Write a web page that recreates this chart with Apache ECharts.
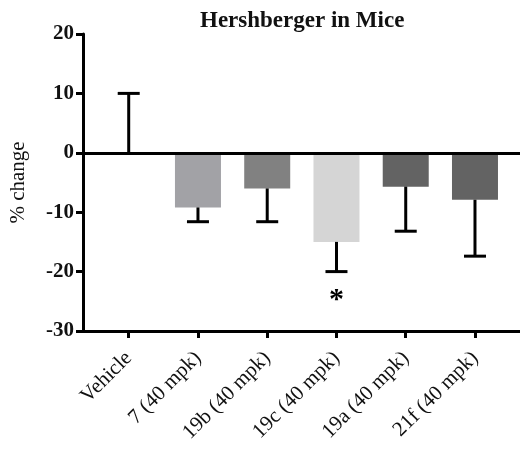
<!DOCTYPE html>
<html>
<head>
<meta charset="utf-8">
<script src="https://cdn.jsdelivr.net/npm/echarts@6/dist/echarts.min.js"></script>
<style>
  html, body { margin: 0; padding: 0; background: #fff; }
  #chart { width: 520px; height: 451px; }
</style>
</head>
<body>
<div id="chart"></div>
<script>
// 数据
var categories = ['Vehicle', '7 (40 mpk)', '19b (40 mpk)', '19c (40 mpk)', '19a (40 mpk)', '21f (40 mpk)'];
var means = [0, -9.2, -6.0, -15.0, -5.7, -7.9];
var errors = [10, 2.4, 5.6, 5.0, 7.5, 9.5];
var barColors = ['#ffffff', '#a2a2a6', '#818181', '#d5d5d5', '#636363', '#636363'];
var yTicks = [-30, -20, -10, 0, 10, 20];
var starAt = [3, -24.9];   // 显著性标记 *

var serif = '"Liberation Serif", "Times New Roman", serif';
var myChart = echarts.init(document.getElementById('chart'));

var barData = means.map(function (m, i) {
    return { value: [i, m], itemStyle: { color: barColors[i] } };
});
var errData = means.map(function (m, i) {
    return [i, m, m >= 0 ? m + errors[i] : m - errors[i]];
});

var option = {
    animation: false,
    title: {
        text: 'Hershberger in Mice',
        left: 195,
        top: 5,
        textStyle: { fontFamily: serif, fontSize: 23, fontWeight: 'bold', color: '#111' }
    },
    grid: { left: 81, right: 0, top: 34, bottom: 120 },
    xAxis: {
        type: 'value',
        min: -0.66,
        max: 5.65,
        splitLine: { show: false },
        axisLine: { onZero: false, lineStyle: { color: '#000', width: 3 } },
        axisTick: { customValues: [0, 1, 2, 3, 4, 5], length: 7, lineStyle: { color: '#000', width: 3 } },
        axisLabel: {
            customValues: [0, 1, 2, 3, 4, 5],
            rotate: 45,
            margin: 24,
            fontFamily: serif,
            fontSize: 21,
            color: '#111',
            formatter: function (v) { return categories[Math.round(v)]; }
        }
    },
    yAxis: {
        type: 'value',
        min: yTicks[0],
        max: yTicks[yTicks.length - 1],
        interval: 10,
        name: '% change',
        nameLocation: 'middle',
        nameGap: 54,
        nameTextStyle: { fontFamily: serif, fontSize: 21, color: '#111' },
        splitLine: { show: false },
        axisLine: { onZero: false, lineStyle: { color: '#000', width: 3 } },
        axisTick: { length: 7, lineStyle: { color: '#000', width: 3 } },
        axisLabel: { margin: 9, fontFamily: serif, fontSize: 21, fontWeight: 'bold', color: '#111' }
    },
    series: [
        {
            type: 'bar',
            barWidth: 46,
            data: barData,
            markLine: {
                silent: true,
                symbol: 'none',
                label: { show: false },
                lineStyle: { color: '#000', width: 3, type: 'solid' },
                data: [{ yAxis: 0 }]
            }
        },
        {
            type: 'custom',
            data: errData,
            z: 5,
            renderItem: function (params, api) {
                var p1 = api.coord([api.value(0), api.value(1)]);
                var p2 = api.coord([api.value(0), api.value(2)]);
                var style = { stroke: '#000', lineWidth: 3 };
                return {
                    type: 'group',
                    children: [
                        { type: 'line', shape: { x1: p1[0], y1: p1[1], x2: p2[0], y2: p2[1] }, style: style },
                        { type: 'line', shape: { x1: p2[0] - 11, y1: p2[1], x2: p2[0] + 11, y2: p2[1] }, style: style }
                    ]
                };
            }
        },
        {
            type: 'custom',
            data: [starAt],
            z: 5,
            renderItem: function (params, api) {
                var p = api.coord([api.value(0), api.value(1)]);
                return {
                    type: 'text',
                    x: p[0],
                    y: p[1],
                    style: {
                        text: '*',
                        fill: '#000',
                        font: 'bold 30px ' + serif,
                        align: 'center',
                        verticalAlign: 'middle'
                    }
                };
            }
        }
    ]
};

myChart.setOption(option);
</script>
</body>
</html>
